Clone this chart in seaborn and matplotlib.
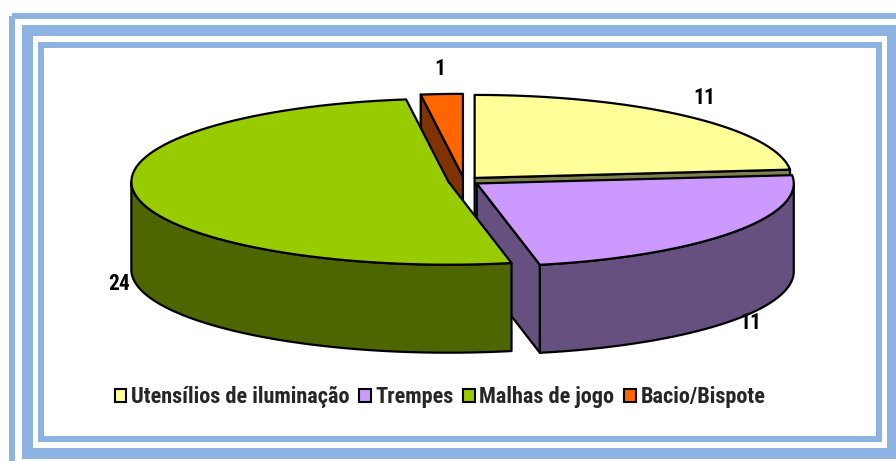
"""Exploded 3D pie of object categories, drawn in the Excel style."""

import numpy as np
import matplotlib

matplotlib.use("Agg")

import matplotlib.pyplot as plt
from matplotlib import font_manager
from matplotlib.patches import Patch, Polygon, Rectangle
import seaborn as sns

categories = ["Utensílios de iluminação", "Trempes", "Malhas de jogo", "Bacio/Bispote"]
values = [11, 11, 24, 1]
top_colors = ["#FFFF99", "#CC99FF", "#99CC00", "#FF6600"]
side_colors = ["#80804D", "#66507F", "#4D6600", "#803300"]

# layout of the pie in pixels
CX, CY = 464, 181
RX, RY = 317, 83
DEPTH = 88
EXPLODE = 0.05
FRAME = "#8DB3E2"

sns.set_theme(style="white")
bold_faces = {f.name for f in font_manager.fontManager.ttflist
              if f.style == "normal" and int(f.weight) >= 700}
text_font = "DejaVu Sans"
for name in ("Roboto Condensed", "PT Sans Narrow", "Liberation Sans"):
    if name in bold_faces:
        text_font = name
        break
plt.rcParams["font.family"] = [text_font, "DejaVu Sans"]

fig = plt.figure(figsize=(8.96, 4.61), dpi=100)
ax = fig.add_axes([0, 0, 1, 1])
ax.set_xlim(0, 896)
ax.set_ylim(461, 0)
ax.axis("off")

# blue frames
for (x0, y0, x1, y1, lw) in [(12, 16, 905, 470, 6), (26.5, 30.5, 891.5, 453, 11), (41, 45, 879, 439, 6)]:
    ax.add_patch(Rectangle((x0, y0), x1 - x0, y1 - y0, fill=False, edgecolor=FRAME,
                           linewidth=lw * 0.72, joinstyle="miter", clip_on=False))


def arc(cx, cy, a0, a1, z=0.0, n=80):
    th = np.radians(np.linspace(a0, a1, n))
    return np.column_stack([cx + RX * np.cos(th), cy - RY * np.sin(th) + z])


total = sum(values)
start = 90.0
sides, tops, labels = [], [], []
for value, top, side in zip(values, top_colors, side_colors):
    hi = start
    lo = start - 360.0 * value / total
    start = lo
    mid = np.radians((lo + hi) / 2)
    cx = CX + EXPLODE * RX * np.cos(mid)
    cy = CY - EXPLODE * RY * np.sin(mid)

    tops.append((np.vstack([[cx, cy], arc(cx, cy, lo, hi)]), top))

    # front part of the outer wall
    for k in (-1, 0, 1):
        s0, s1 = max(lo, -180 + 360 * k), min(hi, 360 * k)
        if s1 - s0 > 0.01:
            verts = np.vstack([arc(cx, cy, s0, s1), arc(cx, cy, s1, s0, DEPTH)])
            key = np.mean(np.sin(np.radians(np.linspace(s0, s1, 50))))
            sides.append((key, verts, side))

    # visible radial faces
    for ang, visible in ((hi, np.cos(np.radians(hi)) < -1e-6), (lo, np.cos(np.radians(lo)) > 1e-6)):
        if visible:
            ex, ey = arc(cx, cy, ang, ang, n=1)[0]
            verts = [[cx, cy], [ex, ey], [ex, ey + DEPTH], [cx, cy + DEPTH]]
            sides.append((0.5 * np.sin(np.radians(ang)), np.array(verts), side))

    s, c = np.sin(mid), np.cos(mid)
    lx = cx + (1.09 - 0.04 * abs(c) ** 4) * RX * c
    ly = cy - 1.3 * RY * s if s > 0 else cy + DEPTH - 1.05 * RY * s
    labels.append((lx, ly, value))

for _, verts, color in sorted(sides, key=lambda item: -item[0]):
    ax.add_patch(Polygon(verts, closed=True, facecolor=color, edgecolor="black",
                         linewidth=1.6, joinstyle="round"))
for verts, color in tops:
    ax.add_patch(Polygon(verts, closed=True, facecolor=color, edgecolor="black",
                         linewidth=1.6, joinstyle="round"))

for lx, ly, value in labels:
    ax.text(lx, ly, str(value), ha="center", va="center", fontsize=15.5,
            fontweight="bold", color="black")

handles = [Patch(facecolor=c, edgecolor="black", linewidth=1.5) for c in top_colors]
fig.legend(handles, categories, loc="center", bbox_to_anchor=(440 / 896, 1 - 397 / 461),
           ncol=4, frameon=False, handlelength=0.52, handleheight=0.52,
           handletextpad=0.2, columnspacing=0.45, borderaxespad=0,
           prop={"weight": "bold", "size": 16})

fig.savefig("out.png", dpi=100)
plt.close(fig)
